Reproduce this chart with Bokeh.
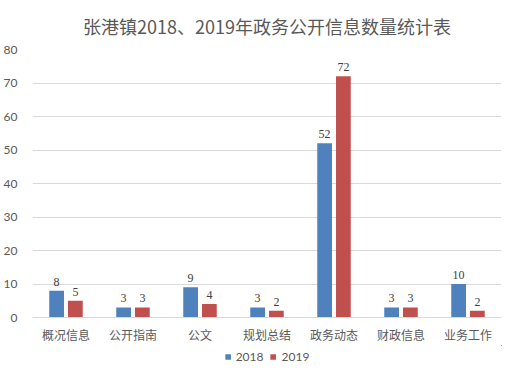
from bokeh.plotting import figure
from bokeh.layouts import column
from bokeh.models import ColumnDataSource, LabelSet, Legend, LegendItem, FixedTicker, Range1d
from bokeh.transform import dodge
from bokeh.embed import file_html
from bokeh.resources import INLINE

categories = ["概况信息", "公开指南", "公文", "规划总结", "政务动态", "财政信息", "业务工作"]
v2018 = [8, 3, 9, 3, 52, 3, 10]
v2019 = [5, 3, 4, 2, 72, 3, 2]
years = ["2018", "2019"]
yticks = [0, 10, 20, 30, 40, 50, 60, 70, 80]
BLUE, RED = "#4f81bd", "#c0504d"

src = ColumnDataSource(dict(cat=categories, y18=v2018, y19=v2019,
                            t18=[str(v) for v in v2018], t19=[str(v) for v in v2019]))

FONT = "Noto Sans CJK SC"
NUMFONT = "Lato"
GREY = "#595959"

p = figure(x_range=categories, width=506, height=345, output_backend="svg",
           toolbar_location=None, title="张港镇2018、2019年政务公开信息数量统计表",
           min_border_left=28, min_border_right=5, min_border_top=10, min_border_bottom=23)
p.y_range = Range1d(0, 80)
p.title.align = "center"
p.title.standoff = 21
p.title.text_font = FONT
p.title.text_font_size = "18px"
p.title.text_font_style = "normal"
p.title.text_color = GREY

p.vbar(x=dodge("cat", -0.14, range=p.x_range), top="y18", width=0.22, source=src,
       color=BLUE, line_color=None)
p.vbar(x=dodge("cat", 0.14, range=p.x_range), top="y19", width=0.22, source=src,
       color=RED, line_color=None)

for xo, col, tcol in [(-0.14, "y18", "t18"), (0.14, "y19", "t19")]:
    lbl = LabelSet(x=dodge("cat", xo, range=p.x_range), y=col, text=tcol, source=src,
                   text_align="center", text_baseline="bottom", y_offset=5,
                   text_font=NUMFONT, text_font_size="12px", text_color="#404040")
    p.add_layout(lbl)

p.outline_line_color = None
p.xgrid.grid_line_color = None
p.ygrid.grid_line_color = "#d9d9d9"
p.yaxis.ticker = FixedTicker(ticks=yticks)
p.yaxis.axis_line_color = None
p.yaxis.major_tick_line_color = None
p.yaxis.minor_tick_line_color = None
p.yaxis.major_label_text_font = NUMFONT
p.yaxis.major_label_text_font_size = "12px"
p.yaxis.major_label_text_color = GREY
p.yaxis.major_label_standoff = 9

p.xaxis.axis_line_color = "#d9d9d9"
p.xaxis.major_tick_line_color = None
p.xaxis.minor_tick_line_color = None
p.xaxis.major_label_text_font = FONT
p.xaxis.major_label_text_font_size = "12px"
p.xaxis.major_label_text_color = GREY
p.xaxis.major_label_standoff = 2

# legend strip: its renderers fall outside the strip's range and only provide swatches
q = figure(width=506, height=19, output_backend="svg", toolbar_location=None,
           min_border=0, x_range=(-1, -0.5), y_range=(-1, -0.5))
q.axis.visible = False
q.grid.visible = False
q.outline_line_color = None
lr1 = q.vbar(x="y18", top="y18", width=0.1, source=src, color=BLUE, line_color=None)
lr2 = q.vbar(x="y19", top="y19", width=0.1, source=src, color=RED, line_color=None)

legend = Legend(items=[LegendItem(label=years[0], renderers=[lr1]),
                       LegendItem(label=years[1], renderers=[lr2])],
                orientation="horizontal", location="bottom_center",
                glyph_width=7, glyph_height=7, label_text_font=NUMFONT,
                label_text_font_size="12px", label_text_color=GREY,
                background_fill_alpha=0, border_line_color=None,
                spacing=6, label_standoff=5, padding=0, margin=0)
q.add_layout(legend, "center")

layout = column(p, q, spacing=0)
open("out.html", "w").write(file_html(layout, INLINE))
